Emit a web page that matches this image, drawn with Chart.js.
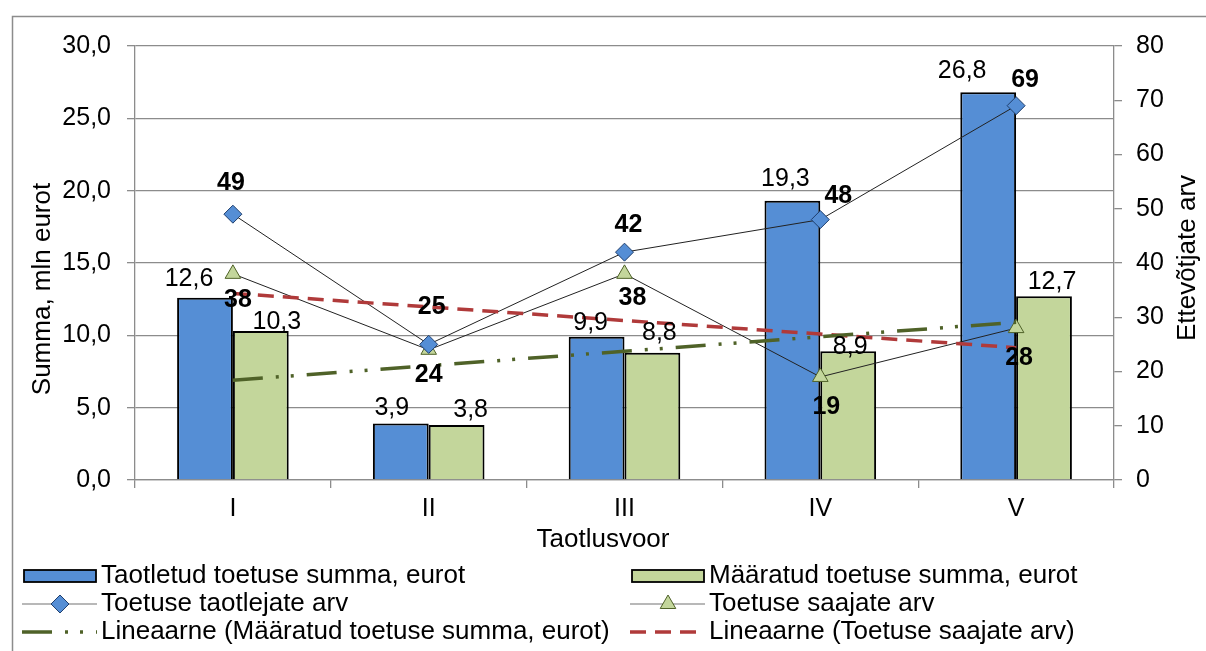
<!DOCTYPE html>
<html>
<head>
<meta charset="utf-8">
<script src="https://cdn.jsdelivr.net/npm/chart.js@4/dist/chart.umd.min.js"></script>
<style>
  html, body { margin: 0; padding: 0; background: #fff; }
</style>
</head>
<body>
<canvas id="chart" width="1206" height="651"></canvas>
<script>
// ===== DATA =====
const rounds = ['I', 'II', 'III', 'IV', 'V'];
const requestedSum = [12.6, 3.9, 9.9, 19.3, 26.8];   // mln eurot
const grantedSum = [10.3, 3.8, 8.8, 8.9, 12.7];      // mln eurot
const applicantCount = [49, 25, 42, 48, 69];
const recipientCount = [38, 24, 38, 19, 28];
const grantedTrend = [6.9, 7.9, 8.9, 9.9, 10.9];
const recipientTrend = [34.4, 31.9, 29.4, 26.9, 24.4];

// label nudges (px) so labels sit where Excel put them
const labelShift = {
  requested: [[-16, -19], [-9, -15], [-6, -14], [-7, -22], [-26, -21]],
  granted: [[16, -9], [14, -15], [7, -20], [2, -4], [8, -14]],
  applicants: [[-2, -31], [3, -37], [4, -27], [18, -23], [9, -26]],
  recipients: [[5, 26], [0, 25], [8, 24], [6, 30], [3, 30]],
};

const FONT = '"Liberation Sans", Arial, sans-serif';
const BLUE = '#558ED5';
const GREEN = '#C3D69B';
const OLIVE = '#4F6228';
const RED = '#B03A3A';
const GRID = '#8C8C8C';
const comma = v => v.toFixed(1).replace('.', ',');

const frame = {
  id: 'frame',
  beforeDraw(chart) {
    const { ctx } = chart;
    ctx.save();
    ctx.fillStyle = '#fff';
    ctx.fillRect(0, 0, chart.width, chart.height);
    ctx.strokeStyle = '#8C8C8C';
    ctx.lineWidth = 1.5;
    ctx.strokeRect(12.5, 16.5, 1300, 700);
    ctx.restore();
  },
};

const valueLabels = {
  id: 'valueLabels',
  afterDatasetsDraw(chart) {
    const { ctx } = chart;
    ctx.save();
    ctx.textAlign = 'center';
    ctx.textBaseline = 'middle';
    ctx.fillStyle = '#000';
    chart.data.datasets.forEach((ds, i) => {
      if (!ds.labelKey) return;
      ctx.font = (ds.labelBold ? 'bold ' : '') + '25px ' + FONT;
      chart.getDatasetMeta(i).data.forEach((el, j) => {
        const [dx, dy] = labelShift[ds.labelKey][j];
        const v = ds.data[j];
        ctx.fillText(ds.labelBold ? String(v) : comma(v), el.x + dx, el.y + dy);
      });
    });
    ctx.restore();
  },
};

const axisTitles = {
  id: 'axisTitles',
  afterDraw(chart) {
    const { ctx } = chart;
    ctx.save();
    ctx.font = '26px ' + FONT;
    ctx.fillStyle = '#000';
    ctx.textAlign = 'center';
    ctx.textBaseline = 'middle';
    ctx.fillText('Taotlusvoor', 603, 540);
    ctx.translate(43, 289);
    ctx.rotate(-Math.PI / 2);
    ctx.fillText('Summa, mln eurot', 0, 0);
    ctx.restore();
    ctx.save();
    ctx.font = '26px ' + FONT;
    ctx.fillStyle = '#000';
    ctx.textAlign = 'center';
    ctx.textBaseline = 'middle';
    ctx.translate(1188, 258);
    ctx.rotate(-Math.PI / 2);
    ctx.fillText('Ettevõtjate arv', 0, 0);
    ctx.restore();
  },
};

const bottomLegend = {
  id: 'bottomLegend',
  afterDraw(chart) {
    const { ctx } = chart;
    const rows = [576, 604, 632];
    const cols = [22, 630];
    const items = [
      { ds: 4, col: 0, row: 0, kind: 'bar' },
      { ds: 5, col: 1, row: 0, kind: 'bar' },
      { ds: 2, col: 0, row: 1, kind: 'point' },
      { ds: 3, col: 1, row: 1, kind: 'point' },
      { ds: 0, col: 0, row: 2, kind: 'trend' },
      { ds: 1, col: 1, row: 2, kind: 'trend' },
    ];
    items.forEach(it => {
      const ds = chart.data.datasets[it.ds];
      const x = cols[it.col];
      const y = rows[it.row];
      ctx.save();
      if (it.kind === 'bar') {
        ctx.fillStyle = ds.backgroundColor;
        ctx.strokeStyle = '#000';
        ctx.lineWidth = 1.8;
        ctx.fillRect(x + 2, y - 6, 72, 12);
        ctx.strokeRect(x + 2, y - 6, 72, 12);
      } else if (it.kind === 'point') {
        ctx.strokeStyle = '#A0A0A0';
        ctx.lineWidth = 1.5;
        ctx.beginPath();
        ctx.moveTo(x, y);
        ctx.lineTo(x + 75, y);
        ctx.stroke();
        ctx.fillStyle = ds.pointBackgroundColor;
        ctx.strokeStyle = ds.pointBorderColor;
        ctx.lineWidth = 1;
        Chart.helpers.drawPoint(ctx, { pointStyle: ds.pointStyle, radius: 9, borderWidth: 1, rotation: 0 }, x + 38, y);
      } else {
        ctx.strokeStyle = ds.borderColor;
        ctx.lineWidth = ds.borderWidth;
        ctx.setLineDash(ds.borderDash);
        ctx.beginPath();
        ctx.moveTo(x, y);
        ctx.lineTo(x + 75, y);
        ctx.stroke();
      }
      ctx.restore();
      ctx.save();
      ctx.font = '26px ' + FONT;
      ctx.fillStyle = '#000';
      ctx.textAlign = 'left';
      ctx.textBaseline = 'middle';
      ctx.fillText(ds.label, x + 79, y);
      ctx.restore();
    });
  },
};

new Chart(document.getElementById('chart').getContext('2d'), {
  type: 'bar',
  data: {
    labels: rounds,
    datasets: [
      {
        type: 'line',
        label: 'Lineaarne (Määratud toetuse summa, eurot)',
        data: grantedTrend,
        yAxisID: 'y',
        borderColor: OLIVE,
        borderWidth: 3.5,
        borderDash: [30, 13, 3, 12, 3, 13],
        pointRadius: 0,
        fill: false,
        order: 1,
      },
      {
        type: 'line',
        label: 'Lineaarne (Toetuse saajate arv)',
        data: recipientTrend,
        yAxisID: 'y1',
        borderColor: RED,
        borderWidth: 3.5,
        borderDash: [16, 9],
        pointRadius: 0,
        fill: false,
        order: 1,
      },
      {
        type: 'line',
        label: 'Toetuse taotlejate arv',
        data: applicantCount,
        yAxisID: 'y1',
        borderColor: '#222',
        borderWidth: 1,
        pointStyle: 'rectRot',
        pointRadius: 9,
        pointBackgroundColor: BLUE,
        pointBorderColor: '#1F3F6E',
        pointBorderWidth: 1,
        fill: false,
        order: 2,
        labelKey: 'applicants',
        labelBold: true,
      },
      {
        type: 'line',
        label: 'Toetuse saajate arv',
        data: recipientCount,
        yAxisID: 'y1',
        borderColor: '#222',
        borderWidth: 1,
        pointStyle: 'triangle',
        pointRadius: 9,
        pointBackgroundColor: GREEN,
        pointBorderColor: OLIVE,
        pointBorderWidth: 1,
        fill: false,
        order: 2,
        labelKey: 'recipients',
        labelBold: true,
      },
      {
        label: 'Taotletud toetuse summa, eurot',
        data: requestedSum,
        yAxisID: 'y',
        backgroundColor: BLUE,
        borderColor: '#000',
        borderWidth: 2,
        categoryPercentage: 0.57,
        barPercentage: 1,
        order: 3,
        labelKey: 'requested',
      },
      {
        label: 'Määratud toetuse summa, eurot',
        data: grantedSum,
        yAxisID: 'y',
        backgroundColor: GREEN,
        borderColor: '#000',
        borderWidth: 2,
        categoryPercentage: 0.57,
        barPercentage: 1,
        order: 3,
        labelKey: 'granted',
      },
    ],
  },
  options: {
    responsive: false,
    animation: false,
    layout: { padding: { top: 46, bottom: 101, left: 0, right: 0 } },
    plugins: {
      legend: { display: false },
      tooltip: { enabled: false },
    },
    scales: {
      x: {
        grid: { offset: true, drawOnChartArea: false, color: GRID, lineWidth: 1.3, tickLength: 8 },
        border: { color: GRID, width: 1.3 },
        ticks: { color: '#000', font: { family: FONT, size: 25 }, padding: 6 },
        afterFit: s => { s.height = 70; },
      },
      y: {
        position: 'left',
        min: 0,
        max: 30,
        ticks: {
          stepSize: 5,
          color: '#000',
          font: { family: FONT, size: 25 },
          padding: 16,
          callback: v => comma(v),
        },
        grid: { color: GRID, lineWidth: 1.3, tickLength: 8 },
        border: { color: GRID, width: 1.3 },
        afterFit: s => { s.width = 135; },
      },
      y1: {
        position: 'right',
        min: 0,
        max: 80,
        ticks: { stepSize: 10, color: '#000', font: { family: FONT, size: 25 }, padding: 14 },
        grid: { drawOnChartArea: false, color: GRID, lineWidth: 1.3, tickLength: 8 },
        border: { color: GRID, width: 1.3 },
        afterFit: s => { s.width = 92; },
      },
    },
  },
  plugins: [frame, valueLabels, axisTitles, bottomLegend],
});
</script>
</body>
</html>
